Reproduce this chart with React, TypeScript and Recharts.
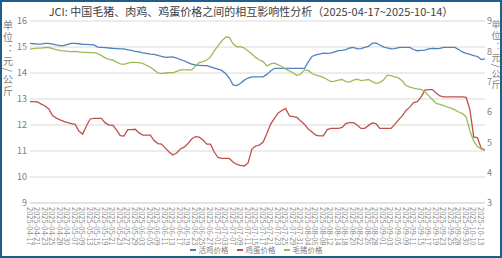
import { CartesianGrid, Legend, Line, LineChart, XAxis, YAxis } from "recharts";

const dates = [
  "2025-04-17", "2025-04-18", "2025-04-21", "2025-04-22", "2025-04-23", "2025-04-24", "2025-04-25", "2025-04-27", "2025-04-28", "2025-04-29",
  "2025-04-30", "2025-05-06", "2025-05-07", "2025-05-08", "2025-05-09", "2025-05-12", "2025-05-13", "2025-05-14", "2025-05-15", "2025-05-16",
  "2025-05-19", "2025-05-20", "2025-05-21", "2025-05-22", "2025-05-23", "2025-05-26", "2025-05-27", "2025-05-28", "2025-05-29", "2025-05-30",
  "2025-06-03", "2025-06-04", "2025-06-05", "2025-06-06", "2025-06-09", "2025-06-10", "2025-06-11", "2025-06-12", "2025-06-13", "2025-06-16",
  "2025-06-17", "2025-06-18", "2025-06-19", "2025-06-20", "2025-06-23", "2025-06-24", "2025-06-25", "2025-06-26", "2025-06-27", "2025-06-30",
  "2025-07-01", "2025-07-02", "2025-07-03", "2025-07-04", "2025-07-07", "2025-07-08", "2025-07-09", "2025-07-10", "2025-07-11", "2025-07-14",
  "2025-07-15", "2025-07-16", "2025-07-17", "2025-07-18", "2025-07-21", "2025-07-22", "2025-07-23", "2025-07-24", "2025-07-25", "2025-07-28",
  "2025-07-29", "2025-07-30", "2025-07-31", "2025-08-01", "2025-08-04", "2025-08-05", "2025-08-06", "2025-08-07", "2025-08-08", "2025-08-11",
  "2025-08-12", "2025-08-13", "2025-08-14", "2025-08-15", "2025-08-18", "2025-08-19", "2025-08-20", "2025-08-21", "2025-08-22", "2025-08-25",
  "2025-08-26", "2025-08-27", "2025-08-28", "2025-08-29", "2025-09-01", "2025-09-02", "2025-09-03", "2025-09-04", "2025-09-05", "2025-09-08",
  "2025-09-09", "2025-09-10", "2025-09-11", "2025-09-12", "2025-09-15", "2025-09-16", "2025-09-17", "2025-09-18", "2025-09-19", "2025-09-22",
  "2025-09-23", "2025-09-24", "2025-09-25", "2025-09-26", "2025-09-28", "2025-09-29", "2025-09-30", "2025-10-09", "2025-10-10", "2025-10-11",
  "2025-10-13", "2025-10-14",
];

// 活鸡价格 (right axis)
const liveChicken = [
  8.26, 8.25, 8.24, 8.24, 8.26, 8.26, 8.24, 8.21, 8.19, 8.19,
  8.23, 8.26, 8.26, 8.25, 8.23, 8.23, 8.22, 8.21, 8.14, 8.13,
  8.12, 8.11, 8.1, 8.09, 8.08, 8.08, 8.05, 8.03, 8.0, 7.98,
  7.95, 7.93, 7.91, 7.9, 7.87, 7.83, 7.8, 7.81, 7.82, 7.78,
  7.73, 7.69, 7.63, 7.58, 7.55, 7.54, 7.53, 7.53, 7.49, 7.45,
  7.41, 7.37, 7.27, 7.12, 6.89, 6.87, 6.95, 7.05, 7.12, 7.16,
  7.16, 7.16, 7.16, 7.24, 7.35, 7.44, 7.44, 7.44, 7.44, 7.44,
  7.44, 7.44, 7.44, 7.44, 7.65, 7.83, 7.88, 7.91, 7.94, 7.93,
  7.94, 7.98, 8.02, 8.03, 8.06, 8.11, 8.13, 8.08, 8.09, 8.13,
  8.16, 8.26, 8.28, 8.21, 8.15, 8.11, 8.08, 8.09, 8.12, 8.13,
  8.13, 8.13, 8.06, 8.02, 8.03, 8.04, 8.08, 8.1, 8.09, 8.1,
  8.13, 8.13, 8.13, 8.13, 8.06, 7.98, 7.93, 7.9, 7.86, 7.83,
  7.73, 7.75,
];

// 鸡蛋价格 (right axis)
const eggs = [
  6.34, 6.34, 6.33, 6.26, 6.2, 6.1, 5.88, 5.8, 5.74, 5.69,
  5.65, 5.62, 5.59, 5.37, 5.27, 5.54, 5.77, 5.79, 5.79, 5.79,
  5.64, 5.57, 5.57, 5.41, 5.22, 5.21, 5.42, 5.42, 5.43, 5.31,
  5.24, 5.24, 5.24, 5.06, 4.96, 4.94, 4.81, 4.68, 4.58, 4.65,
  4.78, 4.84, 4.96, 5.11, 5.19, 5.17, 5.08, 4.94, 4.94, 4.68,
  4.5, 4.47, 4.47, 4.47, 4.35, 4.27, 4.24, 4.22, 4.32, 4.78,
  4.88, 4.91, 5.01, 5.29, 5.6, 5.79, 5.97, 6.05, 6.12, 5.87,
  5.85, 5.82, 5.7, 5.59, 5.44, 5.34, 5.24, 5.21, 5.21, 5.41,
  5.46, 5.46, 5.46, 5.49, 5.62, 5.65, 5.65, 5.57, 5.46, 5.46,
  5.55, 5.64, 5.62, 5.46, 5.46, 5.46, 5.46, 5.59, 5.74, 5.87,
  6.05, 6.16, 6.31, 6.34, 6.49, 6.72, 6.74, 6.74, 6.63, 6.53,
  6.5, 6.5, 6.5, 6.5, 6.5, 6.5, 6.48, 6.07, 5.18, 5.15,
  4.8, 4.75,
];

// 毛猪价格 (left axis)
const hogs = [
  14.92, 14.94, 14.96, 14.96, 14.98, 14.98, 14.94, 14.9, 14.86, 14.85,
  14.83, 14.82, 14.83, 14.81, 14.79, 14.79, 14.78, 14.78, 14.75, 14.67,
  14.58, 14.52, 14.5, 14.42, 14.35, 14.33, 14.38, 14.41, 14.41, 14.4,
  14.37, 14.29, 14.22, 14.12, 14.0, 13.98, 14.0, 14.01, 14.01, 14.06,
  14.12, 14.12, 14.12, 14.12, 14.27, 14.4, 14.44, 14.5, 14.62, 14.85,
  15.04, 15.23, 15.38, 15.37, 15.12, 15.01, 15.01, 14.96, 14.85, 14.73,
  14.6, 14.5, 14.44, 14.27, 14.35, 14.38, 14.31, 14.25, 14.15, 14.08,
  14.0, 13.9, 13.96, 14.12, 14.1, 13.98, 13.92, 13.88, 13.83, 13.75,
  13.67, 13.69, 13.73, 13.75, 13.67, 13.65, 13.73, 13.76, 13.71, 13.73,
  13.75, 13.67, 13.6, 13.63, 13.73, 13.92, 13.9, 13.85, 13.81, 13.69,
  13.52, 13.46, 13.42, 13.39, 13.37, 13.29, 13.13, 12.98, 12.83, 12.79,
  12.75, 12.69, 12.65, 12.58, 12.5, 12.44, 12.31, 11.77, 11.38, 11.17,
  11.08, 11.02,
];

const leftTicks = [9, 10, 11, 12, 13, 14, 15, 16];
const rightTicks = [3, 4, 5, 6, 7, 8, 9];
const unitText = "单位：元/公斤";

const FONT = '"Noto Sans CJK SC", "Noto Sans", sans-serif';
const BLUE = "#4F81BD";
const RED = "#C0504D";
const GREEN = "#9BBB59";

const data = dates.map((date, i) => ({ date, chicken: liveChicken[i], egg: eggs[i], hog: hogs[i] }));

function DateTick({ x, y, payload }: any) {
  return (
    <text x={x} y={y} transform={`rotate(90, ${x}, ${y})`} textAnchor="start" dominantBaseline="central" fontSize={7.5} fill="#8c8c8c" fontFamily={FONT}>
      {payload.value}
    </text>
  );
}

// vertical unit caption
function UnitLabel({ x, size }: { x: number; size: number }) {
  return (
    <text x={x} y={20} style={{ writingMode: "vertical-rl" }} fontSize={size} letterSpacing={2} fill="#7f7f7f" fontFamily={FONT}>
      {unitText}
    </text>
  );
}

function LegendContent() {
  const items = [
    { name: "活鸡价格", color: BLUE },
    { name: "鸡蛋价格", color: RED },
    { name: "毛猪价格", color: GREEN },
  ];
  return (
    <div style={{ display: "flex", justifyContent: "center", gap: 8, fontSize: 7.5, color: "#7f7f7f", fontFamily: FONT, lineHeight: "12px", paddingLeft: 10 }}>
      {items.map((it) => (
        <span key={it.name} style={{ display: "flex", alignItems: "center", gap: 3 }}>
          <span style={{ display: "inline-block", width: 6, height: 1.5, background: it.color }} />
          {it.name}
        </span>
      ))}
    </div>
  );
}

export default function App() {
  return (
    <div style={{ position: "absolute", left: 0, top: 0, width: 502, height: 258, background: "#fff", fontFamily: FONT }}>
      <div style={{ position: "absolute", top: 3, left: 0, width: 502, textAlign: "center", fontSize: 11, color: "#404040", lineHeight: "16px" }}>
        JCI: 中国毛猪、肉鸡、鸡蛋价格之间的相互影响性分析（2025-04-17~2025-10-14）
      </div>
      <LineChart width={502} height={258} data={data} margin={{ top: 21, right: 0, left: 0, bottom: 0 }}>
        <CartesianGrid yAxisId="left" vertical={false} stroke="#d9d9d9" strokeWidth={1} />
        <XAxis dataKey="date" interval={1} tick={<DateTick />} height={41} tickSize={2} tickMargin={2} tickLine={false} axisLine={{ stroke: "#d9d9d9" }} />
        <YAxis
          yAxisId="left"
          orientation="left"
          domain={[9, 16]}
          ticks={leftTicks}
          width={30}
          axisLine={false}
          tickLine={false}
          tickSize={0}
          tickMargin={3}
          tick={{ fontSize: 9, fill: "#808080", fontFamily: FONT }}
          label={{ content: () => <UnitLabel x={8} size={10} /> }}
        />
        <YAxis
          yAxisId="right"
          orientation="right"
          domain={[3, 9]}
          ticks={rightTicks}
          width={17}
          axisLine={false}
          tickLine={false}
          tickSize={0}
          tickMargin={2}
          tick={{ fontSize: 9, fill: "#808080", fontFamily: FONT, textAnchor: "start" }}
          label={{ content: () => <UnitLabel x={496} size={9} /> }}
        />
        <Legend verticalAlign="bottom" height={14} content={<LegendContent />} />
        <Line yAxisId="right" type="linear" dataKey="chicken" name="活鸡价格" stroke={BLUE} strokeWidth={1.3} dot={false} isAnimationActive={false} />
        <Line yAxisId="right" type="linear" dataKey="egg" name="鸡蛋价格" stroke={RED} strokeWidth={1.3} dot={false} isAnimationActive={false} />
        <Line yAxisId="left" type="linear" dataKey="hog" name="毛猪价格" stroke={GREEN} strokeWidth={1.3} dot={false} isAnimationActive={false} />
      </LineChart>
      <div style={{ position: "absolute", inset: 0, border: "2px solid #1f5e8c", pointerEvents: "none" }} />
    </div>
  );
}
